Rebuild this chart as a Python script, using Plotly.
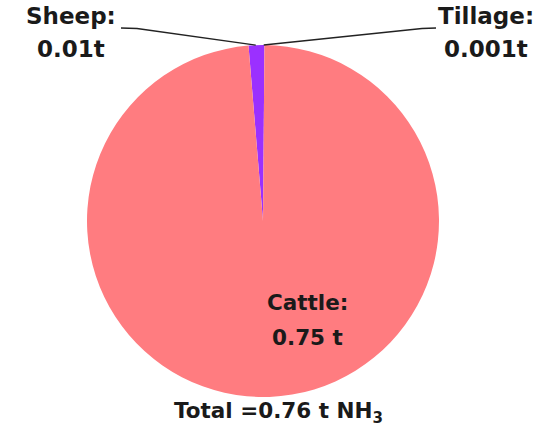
import math
import plotly.graph_objects as go

# Ammonia emissions by source (tonnes NH3)
sources = ["Tillage", "Sheep", "Cattle"]
emissions = [0.001, 0.01, 0.75]
slice_colors = ["#9B30FF", "#9B30FF", "#FF7C80"]
total_label = 0.76

W, H = 547, 435
CX, CY, R = 263, 221, 176  # pie centre and radius in pixels


def px(x):
    return x / W


def py(y):
    return 1 - y / H


# Counterclockwise: the first slice ends at 12 o'clock, the rest continue leftwards
fig = go.Figure(
    go.Pie(
        labels=sources,
        values=emissions,
        sort=False,
        direction="counterclockwise",
        rotation=0,
        marker=dict(colors=slice_colors, line=dict(width=0)),
        textinfo="none",
        hoverinfo="label+value",
        showlegend=False,
        domain=dict(x=[px(CX - R), px(CX + R)], y=[py(CY + R), py(CY - R)]),
    )
)

# Edge points of the two small slices, from their angular position
tot = sum(emissions)
till_v, sheep_v, cattle_v = emissions


def edge_point(frac_from_top, side):
    ang = math.radians(90 + side * frac_from_top * 360)
    return CX + R * math.cos(ang), CY - R * math.sin(ang)


sheep_pt = edge_point(sheep_v / 2 / tot, +1)
till_pt = edge_point(till_v / 2 / tot, -1)

font = dict(family="DejaVu Sans", size=23, color="#1a1a1a")
small = dict(family="DejaVu Sans", size=21.5, color="#1a1a1a")

annotations = [
    dict(x=px(71), y=py(16), text="<b>Sheep:</b>", font=font),
    dict(x=px(71), y=py(49), text=f"<b>{sheep_v}t</b>", font=font),
    dict(x=px(486), y=py(16), text="<b>Tillage:</b>", font=font),
    dict(x=px(486), y=py(49), text=f"<b>{till_v}t</b>", font=font),
    dict(x=px(307), y=py(302), text="<b>Cattle:</b>", font=small),
    dict(x=px(307), y=py(337), text=f"<b>{cattle_v} t</b>", font=small),
    dict(x=px(278), y=py(412), text=f"<b>Total ={total_label} t NH<sub>3</sub></b>", font=small),
]
for a in annotations:
    a.update(xref="paper", yref="paper", showarrow=False, xanchor="center", yanchor="middle")

# Leader lines from labels to the thin slices
shapes = [
    dict(type="path", xref="paper", yref="paper",
         path=f"M {px(121)},{py(28)} L {px(137)},{py(28.5)} L {px(sheep_pt[0])},{py(sheep_pt[1])}",
         line=dict(color="#222222", width=1.4)),
    dict(type="path", xref="paper", yref="paper",
         path=f"M {px(till_pt[0])},{py(till_pt[1])} L {px(422)},{py(28.5)} L {px(436)},{py(28)}",
         line=dict(color="#222222", width=1.4)),
]

fig.update_layout(
    width=W,
    height=H,
    margin=dict(l=0, r=0, t=0, b=0),
    paper_bgcolor="white",
    plot_bgcolor="white",
    annotations=annotations,
    shapes=shapes,
)

fig.write_html("out.html")
